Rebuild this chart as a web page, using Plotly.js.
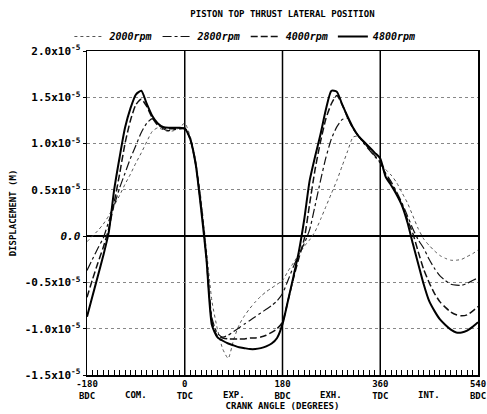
<!DOCTYPE html>
<html>
<head>
<meta charset="utf-8">
<script src="https://cdn.plot.ly/plotly-3.0.1.min.js"></script>
<style>html,body{margin:0;padding:0;background:#fff;}#chart{width:487px;height:414px;}</style>
</head>
<body>
<div id="chart"></div>
<script>
// Crank angle (degrees)
var angle = [-180,-170,-160,-150,-140,-130,-120,-110,-100,-90,-80,-70,-60,-50,-40,-30,-20,-10,
  0,10,20,30,40,50,60,70,80,90,100,110,120,130,140,150,160,170,
  180,190,200,210,220,230,240,250,260,270,280,290,300,310,320,330,340,350,
  360,370,380,390,400,410,420,430,440,450,460,470,480,490,500,510,520,530,540];

// Displacement values in units of 1e-5 m
var rpm2000 = [-0.06,0.00,0.06,0.13,0.22,0.33,0.44,0.56,0.67,0.79,0.90,1.02,1.13,1.17,1.15,1.13,1.14,1.17,
  1.22,1.08,0.82,0.40,-0.15,-0.70,-1.00,-1.22,-1.32,-1.12,-0.96,-0.86,-0.78,-0.71,-0.65,-0.60,-0.56,-0.52,
  -0.48,-0.38,-0.29,-0.20,-0.11,-0.04,0.05,0.18,0.32,0.46,0.60,0.76,0.92,1.07,1.08,1.01,0.94,0.87,
  0.80,0.72,0.66,0.58,0.47,0.36,0.22,0.08,-0.03,-0.10,-0.16,-0.21,-0.24,-0.26,-0.26,-0.25,-0.22,-0.19,-0.15];

var rpm2800 = [-0.37,-0.25,-0.13,-0.02,0.16,0.33,0.52,0.68,0.84,0.98,1.12,1.22,1.27,1.22,1.16,1.14,1.15,1.16,
  1.17,1.06,0.80,0.35,-0.22,-0.88,-1.05,-1.09,-1.07,-1.03,-0.99,-0.95,-0.91,-0.87,-0.83,-0.79,-0.75,-0.70,
  -0.62,-0.48,-0.33,-0.20,-0.08,0.07,0.33,0.60,0.85,1.05,1.18,1.26,1.27,1.17,1.08,1.00,0.93,0.86,
  0.79,0.68,0.59,0.48,0.36,0.22,0.08,-0.04,-0.13,-0.25,-0.35,-0.43,-0.48,-0.52,-0.53,-0.53,-0.51,-0.48,-0.45];

var rpm4000 = [-0.66,-0.47,-0.29,-0.12,0.08,0.36,0.67,1.00,1.25,1.42,1.48,1.40,1.28,1.20,1.17,1.16,1.16,1.16,
  1.16,1.05,0.78,0.32,-0.25,-0.92,-1.08,-1.10,-1.11,-1.11,-1.11,-1.11,-1.10,-1.10,-1.09,-1.07,-1.04,-1.00,
  -0.93,-0.70,-0.46,-0.24,-0.03,0.35,0.72,1.02,1.27,1.43,1.52,1.42,1.28,1.16,1.08,1.01,0.94,0.87,
  0.80,0.66,0.57,0.46,0.34,0.18,0.03,-0.17,-0.36,-0.50,-0.62,-0.71,-0.77,-0.82,-0.85,-0.86,-0.85,-0.81,-0.76];

var rpm4800 = [-0.87,-0.65,-0.43,-0.21,0.04,0.50,0.85,1.17,1.38,1.53,1.57,1.43,1.30,1.22,1.18,1.17,1.17,1.17,
  1.16,1.05,0.78,0.30,-0.25,-0.96,-1.09,-1.13,-1.16,-1.18,-1.20,-1.21,-1.22,-1.22,-1.21,-1.19,-1.16,-1.10,
  -0.95,-0.70,-0.44,-0.17,0.18,0.60,0.86,1.10,1.37,1.57,1.56,1.42,1.29,1.17,1.08,1.02,0.96,0.90,
  0.84,0.64,0.55,0.45,0.33,0.15,-0.08,-0.30,-0.52,-0.70,-0.81,-0.90,-0.96,-1.01,-1.04,-1.04,-1.02,-0.98,-0.93];

var seriesNames = ['2000rpm','2800rpm','4000rpm','4800rpm'];
var yTickVals = [-1.5,-1.0,-0.5,0.0,0.5,1.0,1.5,2.0];
var yTickText = ['-1.5x10<sup>-5</sup>','-1.0x10<sup>-5</sup>','-0.5x10<sup>-5</sup>','<i>0.0</i>',
  '0.5x10<sup>-5</sup>','1.0x10<sup>-5</sup>','1.5x10<sup>-5</sup>','2.0x10<sup>-5</sup>'];
var xTickVals = [-180,0,180,360,540];
var xTickText = ['-180<br>BDC','0<br>TDC','180<br>BDC','360<br>TDC','540<br>BDC'];
var strokeAngles = [-90,90,270,450];
var strokeLabels = ['COM.','EXP.','EXH.','INT.'];
var deadCentres = [0,180,360];

var SCALE = 1e-5;
function scaled(a){ return a.map(function(v){ return v*SCALE; }); }

var styles = [
  {color:'#555', width:1, dash:'dot'},
  {color:'#111', width:1.2, dash:'dashdot'},
  {color:'#111', width:1.5, dash:'7px,3px'},
  {color:'#000', width:2, dash:'solid'}
];
var dataSets = [rpm2000, rpm2800, rpm4000, rpm4800];
var traces = dataSets.map(function(d,i){
  return {x: angle, y: scaled(d), type:'scatter', mode:'lines', name: seriesNames[i],
    line: {color: styles[i].color, width: styles[i].width, dash: styles[i].dash, shape:'spline', smoothing:0.6}};
});

var shapes = deadCentres.map(function(a){
  return {type:'line', xref:'x', yref:'paper', x0:a, x1:a, y0:0, y1:1, line:{color:'#000', width:1.5}, layer:'below'};
});

var F = 'DejaVu Sans Mono, monospace';
var annotations = strokeAngles.map(function(a,i){
  return {x:a, xref:'x', y:0, yref:'paper', yanchor:'top', yshift:-13, showarrow:false,
    text:strokeLabels[i], font:{family:F, size:9, color:'#000', weight:'bold'}};
});

var layout = {
  width:487, height:414,
  margin:{l:87, r:9, t:51, b:39},
  paper_bgcolor:'#fff', plot_bgcolor:'#fff',
  font:{family:F, size:10, color:'#000'},
  title:{text:'PISTON TOP THRUST LATERAL POSITION', x:0.58, xanchor:'center', y:0.975, yanchor:'top',
    font:{family:F, size:9, color:'#000', weight:'bold'}},
  showlegend:true,
  legend:{orientation:'h', x:-0.045, xanchor:'left', y:1.0, yanchor:'bottom',
    font:{family:F, size:10, style:'italic', weight:'bold'}, itemwidth:30, tracegroupgap:0, bgcolor:'rgba(0,0,0,0)'},
  xaxis:{range:[-180,540], tickmode:'array', tickvals:xTickVals, ticktext:xTickText,
    showgrid:false, zeroline:false, showline:true, mirror:true, linecolor:'#000', linewidth:1.5,
    ticks:'inside', ticklen:5, tickcolor:'#000', tickwidth:1,
    minor:{dtick:10, ticks:'inside', ticklen:5, tickcolor:'#000', tickwidth:1, showgrid:false},
    tickfont:{family:F, size:9, color:'#000', weight:'bold'},
    title:{text:'CRANK ANGLE (DEGREES)', standoff:0, font:{family:F, size:9, color:'#000', weight:'bold'}}},
  yaxis:{range:[-1.5*SCALE, 2.0*SCALE], tickmode:'array', tickvals:scaled(yTickVals), ticktext:yTickText,
    showgrid:true, gridcolor:'#888', griddash:'dot', gridwidth:1,
    zeroline:true, zerolinecolor:'#000', zerolinewidth:1.5,
    showline:true, mirror:true, linecolor:'#000', linewidth:1.5,
    ticks:'outside', ticklen:3, tickcolor:'#000',
    tickfont:{family:F, size:11, color:'#000', weight:'bold'},
    title:{text:'DISPLACEMENT (M)', standoff:6, font:{family:F, size:9, color:'#000', weight:'bold'}}},
  shapes: shapes,
  annotations: annotations
};
Plotly.newPlot('chart', traces, layout, {staticPlot:true, displayModeBar:false});
</script>
</body>
</html>
